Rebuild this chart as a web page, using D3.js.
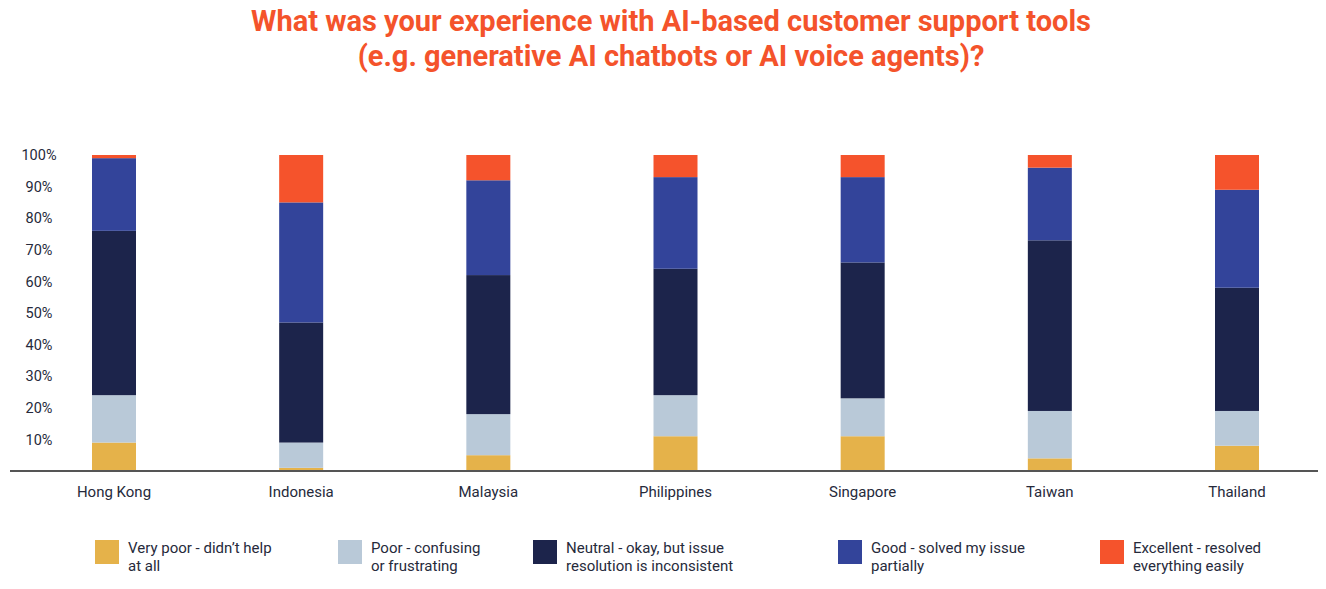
<!DOCTYPE html>
<html lang="en">
<head>
    <meta charset="UTF-8">
    <title>AI customer support experience</title>
    <script src="https://cdn.jsdelivr.net/npm/d3@7/dist/d3.min.js"></script>
    <style>
        body { margin: 0; background: #fff; }
        .title { font-family: "Liberation Sans Narrow", "Roboto", sans-serif; font-weight: 700; fill: #f4532b; }
        .tick text, .cat, .legend text { font-family: "Roboto", sans-serif; fill: #262a3b; }
    </style>
</head>
<body>
    <div class="chart"></div>
    <script>
    // countries along the x axis
    var countries = ['Hong Kong', 'Indonesia', 'Malaysia', 'Philippines', 'Singapore', 'Taiwan', 'Thailand'];

    // answer options, bottom to top
    var answers = [
        'Very poor - didn\u2019t help at all',
        'Poor - confusing or frustrating',
        'Neutral - okay, but issue resolution is inconsistent',
        'Good - solved my issue partially',
        'Excellent - resolved everything easily'
    ];

    // share of respondents (%) per country, one array per answer
    var veryPoor  = [9, 1, 5, 11, 11, 4, 8];
    var poor      = [15, 8, 13, 13, 12, 15, 11];
    var neutral   = [52, 38, 44, 40, 43, 54, 39];
    var good      = [23, 38, 30, 29, 27, 23, 31];
    var excellent = [1, 15, 8, 7, 7, 4, 11];

    var yTicks = [10, 20, 30, 40, 50, 60, 70, 80, 90, 100];

    var legendLines = [
        ['Very poor - didn\u2019t help', 'at all'],
        ['Poor - confusing', 'or frustrating'],
        ['Neutral - okay, but issue', 'resolution is inconsistent'],
        ['Good - solved my issue', 'partially'],
        ['Excellent - resolved', 'everything easily']
    ];

    var colors = ['#e5b24a', '#b9c9d8', '#1c244b', '#33449a', '#f5532c'];

    var W = 1326, H = 589;
    var svg = d3.select('.chart').append('svg')
        .attr('width', W)
        .attr('height', H);

    // title
    var title = svg.append('text').attr('class', 'title')
        .attr('text-anchor', 'middle')
        .style('font-size', '29px');
    title.append('tspan').attr('x', 671).attr('y', 31)
        .text('What was your experience with AI-based customer support tools');
    title.append('tspan').attr('x', 671).attr('y', 66)
        .text('(e.g. generative AI chatbots or AI voice agents)?');

    var table = countries.map(function(c, i) {
        return { country: c, a0: veryPoor[i], a1: poor[i], a2: neutral[i], a3: good[i], a4: excellent[i] };
    });
    var keys = ['a0', 'a1', 'a2', 'a3', 'a4'];
    var series = d3.stack().keys(keys)(table);

    var x = d3.scalePoint().domain(countries).range([114, 1237]);
    var y = d3.scaleLinear().domain([0, 100]).range([471, 155]);
    var barW = 44;

    svg.selectAll('g.layer').data(series).enter().append('g')
        .attr('class', 'layer')
        .attr('fill', function(d, i) { return colors[i]; })
        .selectAll('rect').data(function(d) { return d; }).enter().append('rect')
        .attr('x', function(d) { return x(d.data.country) - barW / 2; })
        .attr('y', function(d) { return y(d[1]); })
        .attr('width', barW)
        .attr('height', function(d) { return y(d[0]) - y(d[1]); });

    // baseline
    svg.append('line')
        .attr('x1', 10).attr('x2', 1318)
        .attr('y1', y(0)).attr('y2', y(0))
        .attr('stroke', '#555')
        .attr('stroke-width', 2);

    // y axis labels
    var yAxis = svg.append('g')
        .attr('transform', 'translate(39,0)')
        .call(d3.axisLeft(y).tickValues(yTicks).tickSize(0).tickPadding(0)
            .tickFormat(function(d) { return d + '%'; }));
    yAxis.select('.domain').remove();
    yAxis.selectAll('text')
        .attr('text-anchor', 'middle')
        .style('font-size', '14.5px');

    // country labels
    svg.selectAll('text.cat').data(countries).enter().append('text')
        .attr('class', 'cat')
        .attr('x', function(d) { return x(d); })
        .attr('y', 497)
        .attr('text-anchor', 'middle')
        .style('font-size', '15px')
        .text(function(d) { return d; });

    // legend
    var legendX = [95, 338, 533, 838, 1100];
    var legend = svg.selectAll('g.legend').data(answers).enter().append('g')
        .attr('class', 'legend')
        .attr('transform', function(d, i) { return 'translate(' + legendX[i] + ',540)'; });
    legend.append('rect')
        .attr('width', 24).attr('height', 24)
        .attr('fill', function(d, i) { return colors[i]; });
    legend.append('text')
        .style('font-size', '15px')
        .selectAll('tspan').data(function(d, i) { return legendLines[i]; }).enter().append('tspan')
        .attr('x', 33)
        .attr('y', function(d, j) { return 13 + j * 18; })
        .text(function(d) { return d; });
    </script>
</body>
</html>
